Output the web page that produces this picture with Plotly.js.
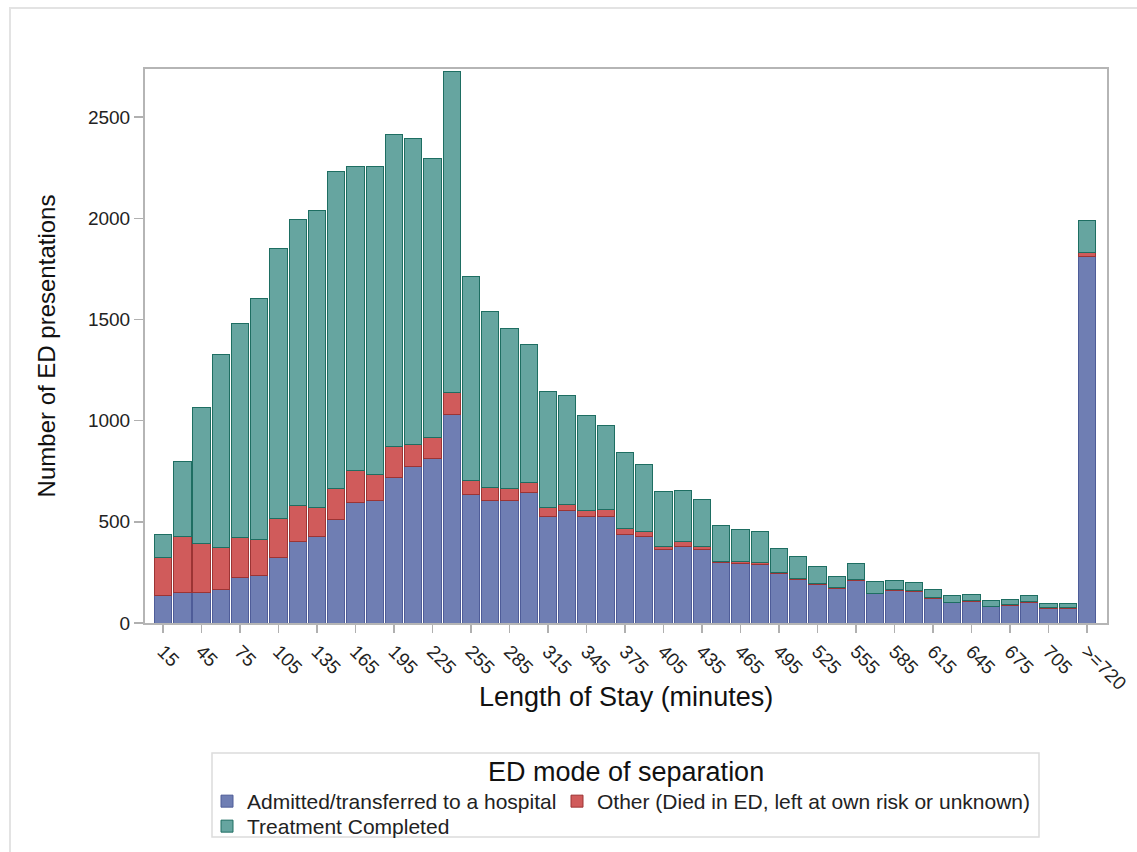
<!DOCTYPE html>
<html>
<head>
<meta charset="utf-8">
<script src="https://cdn.plot.ly/plotly-3.0.1.min.js"></script>
<style>
  html, body { margin: 0; padding: 0; background: #ffffff; }
  #wrap { position: relative; width: 1137px; height: 852px; }
  #frame { position: absolute; left: 9px; top: 7px; width: 1140px; height: 860px;
           border-left: 2px solid #e3e3e3; border-top: 2px solid #e3e3e3; pointer-events: none; }
  #chart { position: absolute; left: 0; top: 0; width: 1137px; height: 852px; }
</style>
</head>
<body>
<div id="wrap">
  <div id="chart"></div>
  <div id="frame"></div>
</div>
<script>
// Length of stay categories (minutes)
const categories = ["15","30","45","60","75","90","105","120","135","150","165","180","195","210","225","240",
  "255","270","285","300","315","330","345","360","375","390","405","420","435","450","465","480",
  "495","510","525","540","555","570","585","600","615","630","645","660","675","690","705","720",">=720"];

// Tick labels shown on the axis
const tickLabels = ["15","45","75","105","135","165","195","225","255","285","315","345","375","405","435",
  "465","495","525","555","585","615","645","675","705",">=720"];

// Admitted/transferred to a hospital
const admitted = [138,153,153,165,224,235,322,401,428,511,594,607,717,772,812,1029,
  634,607,603,643,528,555,528,528,436,426,362,380,362,298,294,290,
  244,216,192,172,210,144,162,155,122,99,106,81,86,103,73,73,1812];

// Other (Died in ED, left at own risk or unknown)
const other = [187,273,240,206,199,179,196,178,145,156,160,128,156,110,103,111,
  72,64,62,50,45,33,27,33,31,26,18,24,18,7,11,8,
  8,6,5,4,5,4,4,4,4,4,4,3,3,3,3,3,21];

// Treatment Completed
const completed = [112,370,673,958,1058,1191,1335,1413,1465,1566,1501,1520,1540,1511,1379,1586,
  1007,869,791,682,572,537,471,413,378,329,269,252,230,177,155,152,
  114,105,82,55,79,58,42,42,39,34,32,25,27,28,20,20,157];

const font = "Liberation Sans, Arial, sans-serif";

const traces = [
  {type: "bar", name: "Admitted/transferred to a hospital", x: categories, y: admitted,
   legend: "legend",
   marker: {color: "#6F7EB3", line: {color: "#4E5C98", width: 1}}},
  {type: "bar", name: "Other (Died in ED, left at own risk or unknown)", x: categories, y: other,
   legend: "legend2",
   marker: {color: "#D05B5B", line: {color: "#9C3434", width: 1}}},
  {type: "bar", name: "Treatment Completed", x: categories, y: completed,
   legend: "legend3",
   marker: {color: "#66A5A0", line: {color: "#1E6E62", width: 1}}}
];

// pixel -> paper helpers for the plot area (l=145, w=962, bottom=623, h=554)
const px = v => (v - 145) / 962;
const py = v => (623 - v) / 554;

const legendCommon = {
  orientation: "v", xanchor: "left", yanchor: "top",
  bgcolor: "rgba(0,0,0,0)", borderwidth: 0,
  font: {family: font, size: 21, color: "#222222"},
  itemwidth: 30, tracegroupgap: 0
};

const layout = {
  width: 1137, height: 852,
  paper_bgcolor: "rgba(0,0,0,0)", plot_bgcolor: "#ffffff",
  barmode: "stack", bargap: 0.1,
  margin: {l: 145, r: 30, t: 69, b: 229, autoexpand: false},
  font: {family: font, color: "#222222", size: 19},
  showlegend: true,
  xaxis: {
    type: "category",
    categoryorder: "array", categoryarray: categories,
    range: [-0.94, 49.04],
    tickmode: "array", tickvals: tickLabels, ticktext: tickLabels,
    tickangle: 45, ticks: "outside", ticklen: 8, tickcolor: "#b0b0b0", tickwidth: 1.5,
    tickfont: {family: font, size: 19, color: "#222222"},
    showline: true, linecolor: "#b5b5b5", linewidth: 2, mirror: true,
    showgrid: false, zeroline: false
  },
  yaxis: {
    range: [0, 2738],
    tickmode: "array", tickvals: [0, 500, 1000, 1500, 2000, 2500],
    ticks: "outside", ticklen: 9, tickcolor: "#b0b0b0", tickwidth: 1.5,
    tickfont: {family: font, size: 19, color: "#222222"},
    showline: true, linecolor: "#b5b5b5", linewidth: 2, mirror: true,
    showgrid: false, zeroline: false,
    title: {text: "Number of ED presentations", font: {family: font, size: 24, color: "#111111"}, standoff: 26}
  },
  legend: Object.assign({}, legendCommon, {x: px(207), y: py(781)}),
  legend2: Object.assign({}, legendCommon, {x: px(557), y: py(781)}),
  legend3: Object.assign({}, legendCommon, {x: px(207), y: py(806)}),
  annotations: [
    {text: "Length of Stay (minutes)", xref: "paper", yref: "paper", x: 0.5, y: py(697),
     xanchor: "center", yanchor: "middle", showarrow: false,
     font: {family: font, size: 27, color: "#111111"}},
    {text: "ED mode of separation", xref: "paper", yref: "paper", x: px(625.5), y: py(772),
     xanchor: "center", yanchor: "middle", showarrow: false,
     font: {family: font, size: 27, color: "#111111"}}
  ],
  shapes: [
    {type: "rect", xref: "paper", yref: "paper", x0: px(212), x1: px(1039), y0: py(837), y1: py(753),
     line: {color: "#dcdcdc", width: 1.5}, fillcolor: "rgba(0,0,0,0)", layer: "below"}
  ]
};

Plotly.newPlot("chart", traces, layout, {displayModeBar: false, staticPlot: true});
</script>
</body>
</html>
